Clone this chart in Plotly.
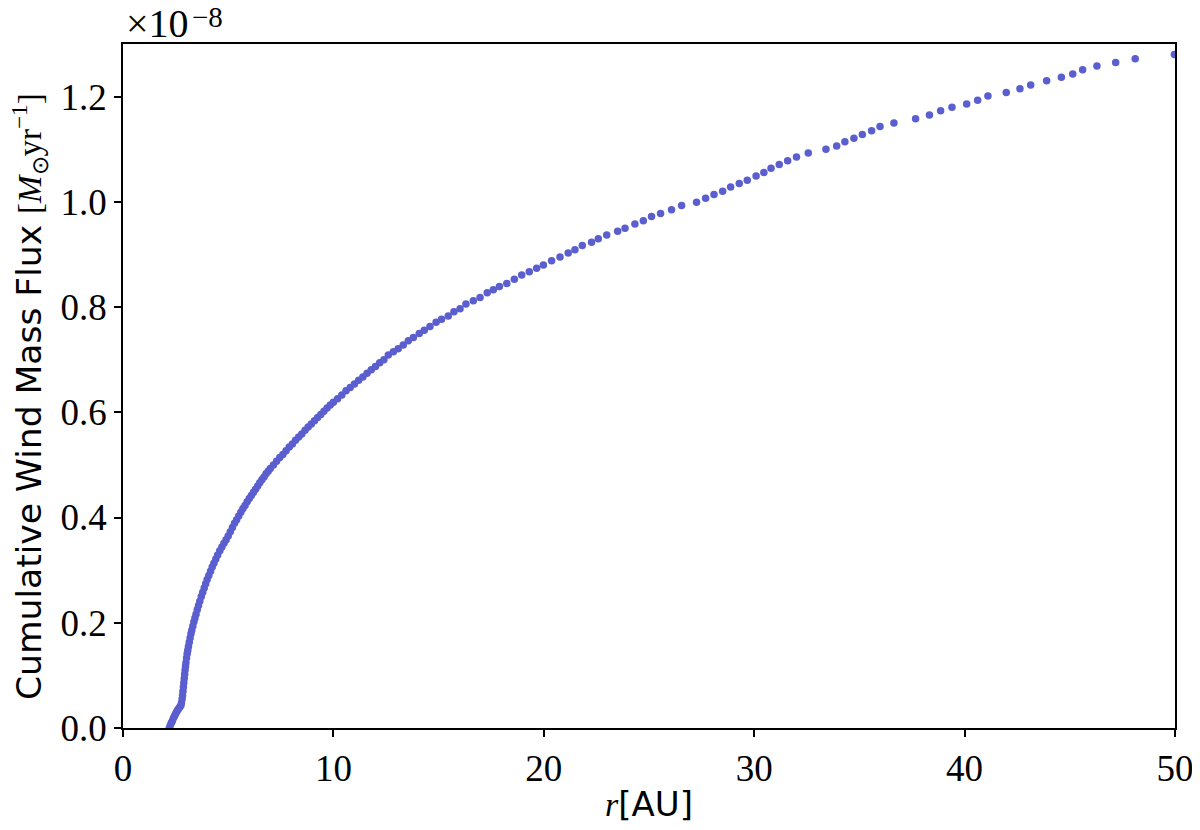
import plotly.graph_objects as go

# radius [AU] and cumulative flux [1e-8 Msun/yr]
r_inner = [2.20, 2.25, 2.30, 2.35, 2.40, 2.45, 2.50, 2.55, 2.60, 2.65, 2.70, 2.75, 2.78, 2.81,
           2.83, 2.85, 2.87, 2.89, 2.91, 2.93, 2.95, 2.97, 2.99, 3.02, 3.05, 3.08, 3.11, 3.15,
           3.19, 3.23, 3.27, 3.32, 3.37, 3.42, 3.47, 3.53, 3.59, 3.65, 3.72, 3.79, 3.86, 3.93,
           4.00, 4.08, 4.16, 4.24, 4.32, 4.41, 4.50, 4.60, 4.70, 4.80, 4.90, 5.00]
flux_inner = [0.000, 0.005, 0.010, 0.014, 0.019, 0.023, 0.027, 0.031, 0.034, 0.037, 0.040, 0.043,
              0.048, 0.055, 0.062, 0.070, 0.078, 0.086, 0.094, 0.102, 0.110, 0.117, 0.124, 0.133,
              0.141, 0.148, 0.155, 0.163, 0.171, 0.179, 0.186, 0.194, 0.202, 0.209, 0.216, 0.225,
              0.233, 0.241, 0.250, 0.258, 0.266, 0.274, 0.282, 0.290, 0.298, 0.306, 0.313, 0.321,
              0.329, 0.337, 0.344, 0.351, 0.358, 0.365]

r_mid = [5.1, 5.2, 5.3, 5.4, 5.5, 5.6, 5.7, 5.8, 5.9, 6.0, 6.1, 6.2, 6.3, 6.4, 6.5, 6.6, 6.7,
         6.8, 6.9, 7.0, 7.15, 7.3, 7.45, 7.6, 7.75, 7.9, 8.05, 8.2, 8.35, 8.5, 8.65, 8.8, 8.95,
         9.1, 9.25, 9.4, 9.55, 9.7, 9.85, 10.0, 10.2, 10.4, 10.6, 10.8, 11.0, 11.2, 11.4, 11.6,
         11.8, 12.0, 12.2, 12.4]
flux_mid = [0.373, 0.381, 0.389, 0.396, 0.403, 0.410, 0.417, 0.423, 0.430, 0.436, 0.442, 0.448,
            0.454, 0.460, 0.466, 0.472, 0.477, 0.483, 0.488, 0.493, 0.500, 0.507, 0.514, 0.520,
            0.527, 0.534, 0.540, 0.547, 0.553, 0.559, 0.566, 0.572, 0.578, 0.584, 0.590, 0.596,
            0.602, 0.608, 0.614, 0.619, 0.626, 0.633, 0.641, 0.647, 0.654, 0.661, 0.667, 0.674,
            0.681, 0.687, 0.694, 0.700]

r_outer = [12.61, 12.85, 13.08, 13.32, 13.56, 13.80, 14.08, 14.32, 14.59, 14.88, 15.14, 15.46,
           15.73, 16.02, 16.30, 16.65, 16.97, 17.31, 17.60, 17.89, 18.24, 18.60, 18.95, 19.31,
           19.66, 19.98, 20.37, 20.77, 21.16, 21.48, 21.83, 22.27, 22.59, 22.99, 23.51, 23.86,
           24.33, 24.73, 25.12, 25.55, 26.07, 26.55, 27.26, 27.69, 28.09, 28.50, 28.88, 29.29,
           29.67, 30.09, 30.46, 30.80, 31.19, 31.59, 32.01, 32.57, 33.41, 33.92, 34.31, 34.74,
           35.14, 35.58, 35.98, 36.64, 37.67, 38.33, 38.86, 39.40, 40.10, 40.62, 41.11, 41.98,
           42.63, 43.14, 43.90, 44.60, 45.14, 45.61, 46.29, 47.18, 48.11, 49.97]
flux_outer = [0.709, 0.715, 0.721, 0.728, 0.736, 0.742, 0.750, 0.756, 0.763, 0.771, 0.777, 0.783,
              0.791, 0.797, 0.806, 0.812, 0.818, 0.827, 0.833, 0.839, 0.845, 0.853, 0.861, 0.867,
              0.874, 0.880, 0.888, 0.895, 0.903, 0.909, 0.917, 0.923, 0.930, 0.937, 0.944, 0.950,
              0.958, 0.964, 0.972, 0.978, 0.985, 0.993, 0.999, 1.007, 1.014, 1.020, 1.028, 1.035,
              1.041, 1.049, 1.056, 1.064, 1.071, 1.078, 1.085, 1.093, 1.100, 1.106, 1.114, 1.121,
              1.128, 1.135, 1.143, 1.150, 1.158, 1.165, 1.173, 1.180, 1.186, 1.193, 1.201, 1.208,
              1.215, 1.222, 1.230, 1.237, 1.243, 1.251, 1.258, 1.265, 1.272, 1.280]

r_all = r_inner + r_mid + r_outer
flux_all = flux_inner + flux_mid + flux_outer

x_ticks = [0, 10, 20, 30, 40, 50]
y_ticks = [0.0, 0.2, 0.4, 0.6, 0.8, 1.0, 1.2]

SERIF = "Liberation Serif"
SANS = "DejaVu Sans"

fig = go.Figure()
fig.add_trace(go.Scatter(
    x=r_all, y=flux_all, mode="markers",
    marker=dict(size=7.5, color="rgb(90,94,206)", line=dict(width=0)),
    showlegend=False,
))

axis_common = dict(
    showline=True, linecolor="black", linewidth=1.5, mirror=True,
    ticks="outside", ticklen=7, tickwidth=1.5, tickcolor="black",
    showgrid=False, zeroline=False, automargin=False,
    tickfont=dict(family=SERIF, size=37, color="black"),
)

fig.update_xaxes(
    range=[0, 50], tickvals=x_ticks, ticktext=[str(v) for v in x_ticks],
    title=dict(text=f"<span style='font-family:{SERIF}'><i>r</i></span>[AU]",
               font=dict(family=SANS, size=34, color="black"), standoff=4),
    **axis_common,
)
fig.update_yaxes(
    range=[0, 1.3], tickvals=y_ticks, ticktext=[f"{v:.1f}" for v in y_ticks],
    **axis_common,
)

# y-axis title (as a rotated annotation for exact placement)
fig.add_annotation(
    text=("Cumulative Wind Mass Flux "
          f"<span style='font-family:{SERIF};font-size:33px'>[<i>M</i><sub>⊙</sub>yr<sup>−1</sup>]</span>"),
    xref="paper", yref="paper", x=0, y=0.4839, xanchor="center", yanchor="middle",
    xshift=-94, textangle=-90, showarrow=False,
    font=dict(family=SANS, size=34.5, color="black"),
)

# offset multiplier text
fig.add_annotation(
    text="×10", xref="paper", yref="paper", x=0, y=1,
    xanchor="left", yanchor="bottom", showarrow=False, yshift=-4, xshift=1,
    font=dict(family=SERIF, size=40, color="black"),
)
fig.add_annotation(
    text="−8", xref="paper", yref="paper", x=0, y=1,
    xanchor="left", yanchor="bottom", showarrow=False, yshift=9, xshift=67,
    font=dict(family=SERIF, size=29, color="black"),
)

# page body adds an 8px offset; margins compensate so the plot box sits at x 123-1175, y 44-728
fig.update_layout(
    width=1200, height=830,
    margin=dict(l=115, r=33, t=36, b=110),
    paper_bgcolor="white", plot_bgcolor="white",
)

fig.write_html("out.html")
